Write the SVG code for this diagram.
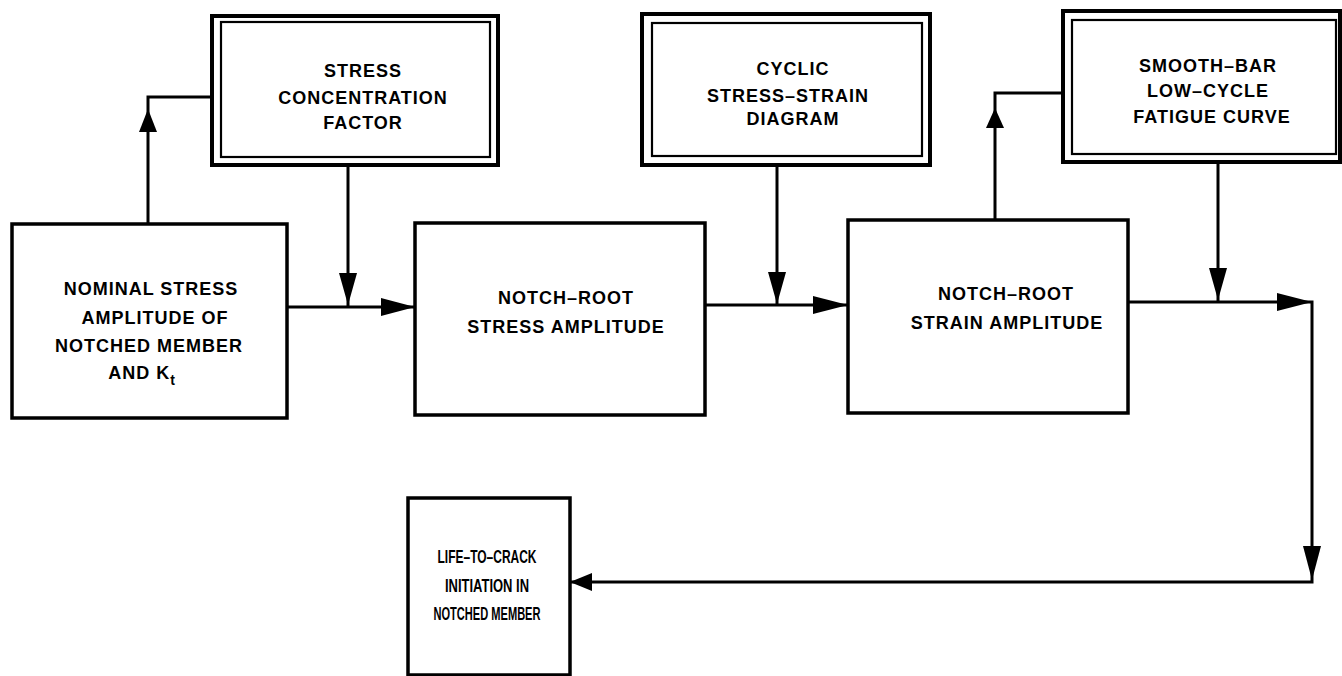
<svg xmlns="http://www.w3.org/2000/svg" width="1342" height="676" viewBox="0 0 1342 676">
<style>
.box{fill:#fff;stroke:#000;stroke-width:3.5}
.outer{fill:#fff;stroke:#000;stroke-width:4}
.inner{fill:none;stroke:#000;stroke-width:2.2}
.line{fill:none;stroke:#000;stroke-width:3}
.head{fill:#000;stroke:none}
text{font-family:"Liberation Sans",Arial,sans-serif;font-weight:bold;font-size:18px;fill:#000;text-anchor:middle;letter-spacing:1px}
.narrow{font-size:19px;letter-spacing:0}
</style>
<rect width="1342" height="676" fill="#fff"/>
<g id="connectors">
  <polyline class="line" points="148,224 148,97 212,97"/>
  <polygon class="head" points="148,109 139,132 157,132"/>
  <line class="line" x1="348" y1="165" x2="348" y2="307"/>
  <polygon class="head" points="348,305 339,273 357,273"/>
  <line class="line" x1="287" y1="307" x2="415" y2="307"/>
  <polygon class="head" points="415,307 381,298 381,316"/>
  <line class="line" x1="777" y1="165" x2="777" y2="305"/>
  <polygon class="head" points="777,304 768,272 786,272"/>
  <line class="line" x1="705" y1="305" x2="848" y2="305"/>
  <polygon class="head" points="848,305 813,296 813,314"/>
  <polyline class="line" points="995,220 995,93 1063,93"/>
  <polygon class="head" points="995,108 986,128 1004,128"/>
  <line class="line" x1="1218" y1="162" x2="1218" y2="302"/>
  <polygon class="head" points="1218,300 1209,268 1227,268"/>
  <polyline class="line" points="1128,302 1312,302 1312,582 570,582"/>
  <polygon class="head" points="1312,302 1277,293 1277,311"/>
  <polygon class="head" points="1312,580 1303,546 1321,546"/>
  <polygon class="head" points="570,582 592,573 592,591"/>
</g>
<g id="n_nominal">
  <rect class="box" x="12" y="224" width="275" height="194"/>
  <text x="151" y="295">NOMINAL STRESS</text>
  <text x="155" y="324">AMPLITUDE OF</text>
  <text x="149" y="352">NOTCHED MEMBER</text>
  <text x="142" y="379">AND K<tspan font-size="14" dy="6">t</tspan></text>
</g>
<g id="n_scf">
  <rect class="outer" x="212" y="16" width="286" height="149"/>
  <rect class="inner" x="221" y="22" width="269" height="135"/>
  <text x="363" y="77">STRESS</text>
  <text x="363" y="104">CONCENTRATION</text>
  <text x="363" y="129">FACTOR</text>
</g>
<g id="n_stress">
  <rect class="box" x="415" y="223" width="290" height="192"/>
  <text x="566" y="304">NOTCH–ROOT</text>
  <text x="566" y="333">STRESS AMPLITUDE</text>
</g>
<g id="n_cyclic">
  <rect class="outer" x="642" y="14" width="288" height="151"/>
  <rect class="inner" x="652" y="23" width="270" height="133"/>
  <text x="793" y="75">CYCLIC</text>
  <text x="788" y="102">STRESS–STRAIN</text>
  <text x="793" y="125">DIAGRAM</text>
</g>
<g id="n_strain">
  <rect class="box" x="848" y="220" width="280" height="193"/>
  <text x="1006" y="300">NOTCH–ROOT</text>
  <text x="1007" y="329">STRAIN AMPLITUDE</text>
</g>
<g id="n_smooth">
  <rect class="outer" x="1063" y="11" width="277" height="151"/>
  <rect class="inner" x="1072" y="20" width="264" height="134"/>
  <text x="1208" y="72">SMOOTH–BAR</text>
  <text x="1208" y="97">LOW–CYCLE</text>
  <text x="1212" y="123">FATIGUE CURVE</text>
</g>
<g id="n_life">
  <rect class="box" x="408" y="498" width="162" height="177"/>
  <text class="narrow" x="487" y="563" textLength="99" lengthAdjust="spacingAndGlyphs">LIFE–TO–CRACK</text>
  <text class="narrow" x="487" y="592" textLength="84" lengthAdjust="spacingAndGlyphs">INITIATION IN</text>
  <text class="narrow" x="487" y="620" textLength="107" lengthAdjust="spacingAndGlyphs">NOTCHED MEMBER</text>
</g>
</svg>
